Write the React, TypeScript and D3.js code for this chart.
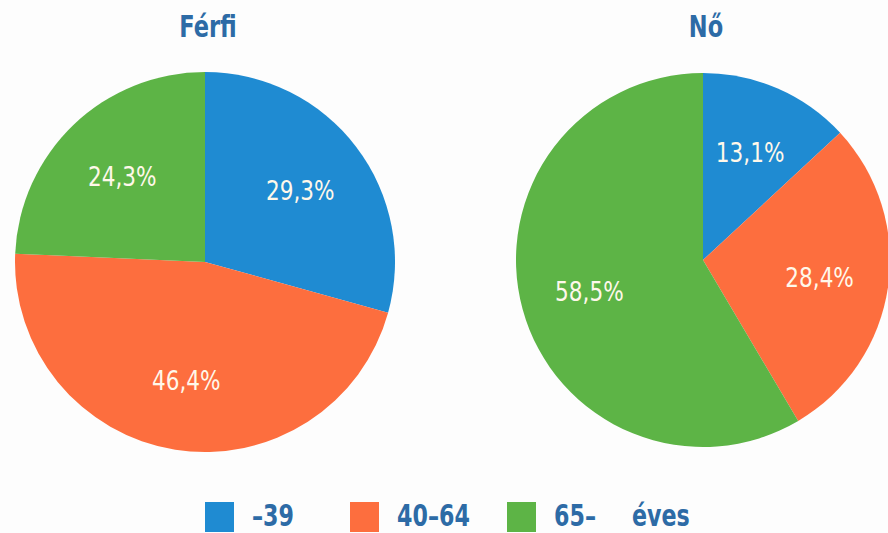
import React from 'react';
import * as d3 from 'd3';

const categories = ['–39', '40–64', '65–'];
const colors = ['#1f8bd2', '#fd6e3e', '#5db446'];
const pies = ['Férfi', 'Nő'];
const ferfiValues = [29.3, 46.4, 24.3];
const noValues = [13.1, 28.4, 58.5];
const unitLabel = 'éves';

const W = 888;
const H = 533;
const FONT = "'DejaVu Sans', sans-serif";
const TITLE_COLOR = '#2d6ba6';

const fmt = (v: number) => v.toFixed(1).replace('.', ',') + '%';

// condensed look: squeeze text horizontally
function NarrowText({ x, y, sx, children, ...rest }: any) {
  return (
    <g transform={`translate(${x},${y}) scale(${sx},1)`}>
      <text fontFamily={FONT} {...rest}>{children}</text>
    </g>
  );
}

function Pie({ title, values, cx, cy, r }: { title: string; values: number[]; cx: number; cy: number; r: number }) {
  const pie = d3.pie<number>().sort(null).value(d => d);
  const arc = d3.arc<d3.PieArcDatum<number>>().innerRadius(0).outerRadius(r);
  const labelArc = d3.arc<d3.PieArcDatum<number>>().innerRadius(r * 0.63).outerRadius(r * 0.63);
  const arcs = pie(values);
  return (
    <g>
      <NarrowText x={cx + 3} y={37} sx={0.75} textAnchor="middle" fontWeight="bold" fontSize={30} fill={TITLE_COLOR}>
        {title}
      </NarrowText>
      <g transform={`translate(${cx},${cy})`}>
        {arcs.map((d, i) => (
          <path key={i} d={arc(d) || ''} fill={colors[i]} />
        ))}
        {arcs.map((d, i) => {
          const [x, y] = labelArc.centroid(d);
          return (
            <NarrowText key={'l' + i} x={x} y={y + 10} sx={0.8} textAnchor="middle" fontSize={27} fill="#fff8ea">
              {fmt(d.data)}
            </NarrowText>
          );
        })}
      </g>
    </g>
  );
}

export default function App() {
  const legendX = d3.scaleOrdinal<string, number>().domain(categories).range([205, 350, 507]);
  return (
    <svg width={W} height={H} style={{ display: 'block', position: 'absolute', left: 0, top: 0 }}>
      <rect width={W} height={H} fill="#fdfdfd" />
      <Pie title={pies[0]} values={ferfiValues} cx={205} cy={262} r={190} />
      <Pie title={pies[1]} values={noValues} cx={703} cy={260} r={187} />
      <g>
        {categories.map((c, i) => (
          <g key={c} transform={`translate(${legendX(c)},502)`}>
            <rect width={29} height={30} fill={colors[i]} />
            <NarrowText x={47} y={24} sx={0.74} fontWeight="bold" fontSize={30} fill={TITLE_COLOR}>
              {c}
            </NarrowText>
          </g>
        ))}
        <NarrowText x={632} y={526} sx={0.74} fontWeight="bold" fontSize={30} fill={TITLE_COLOR}>
          {unitLabel}
        </NarrowText>
      </g>
    </svg>
  );
}
